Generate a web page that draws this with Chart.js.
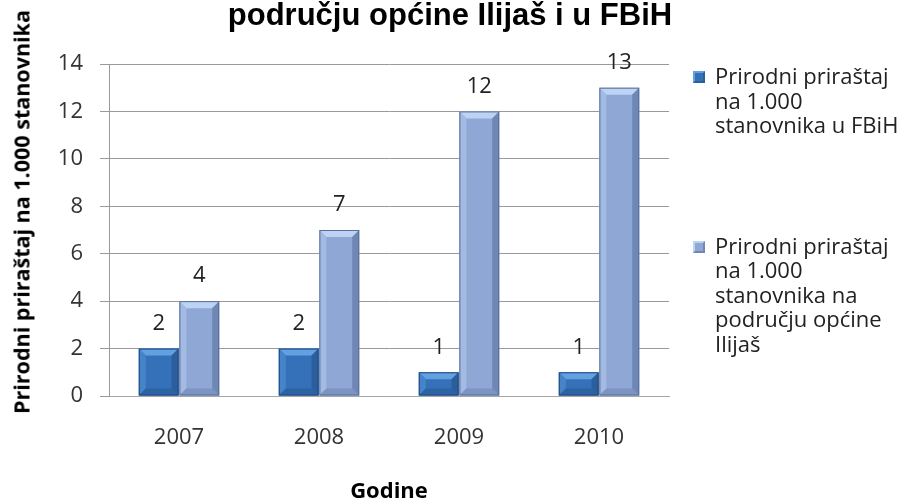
<!DOCTYPE html>
<html>
<head>
<meta charset="utf-8">
<script src="https://cdn.jsdelivr.net/npm/chart.js@4.4.1/dist/chart.umd.min.js"></script>
<style>
  html, body { margin: 0; padding: 0; background: #fff; }
  #wrap { position: relative; width: 909px; height: 500px; overflow: hidden; }
  #chartTitle {
    position: absolute; left: 0; top: -5px; width: 900px; text-align: center;
    font: bold 31px "Liberation Sans", Arial, sans-serif; color: #000; line-height: 40px;
  }
  #yTitle {
    position: absolute; left: 21px; top: 212px; transform: translate(-50%, -50%) rotate(-90deg);
    white-space: nowrap; font: bold 21.5px "Open Sans", sans-serif; color: #000;
  }
  #legend {
    position: absolute; left: 693px; top: 63px;
    font: 22px "Open Sans", sans-serif; color: #222; line-height: 24.5px;
  }
  .item { position: relative; padding-left: 22px; }
  .item + .item { margin-top: 96px; }
  .sw { position: absolute; left: 0; top: 8px; width: 12px; height: 12px; box-sizing: border-box; }
</style>
</head>
<body>
<div id="wrap">
  <canvas id="barChart" width="909" height="500"></canvas>
  <div id="chartTitle">području općine Ilijaš i u FBiH</div>
  <div id="yTitle">Prirodni priraštaj na 1.000 stanovnika</div>
  <div id="legend"></div>
</div>
<script>
const categories = ["2007", "2008", "2009", "2010"];
const fbihValues = [2, 2, 1, 1];
const ilijasValues = [4, 7, 12, 13];
const seriesLabels = [
  "Prirodni priraštaj<br>na 1.000<br>stanovnika u FBiH",
  "Prirodni priraštaj<br>na 1.000<br>stanovnika na<br>području općine<br>Ilijaš"
];
const yTicks = [0, 2, 4, 6, 8, 10, 12, 14];

const faces = [
  { main: "#3471b9", top: "#62a0e0", left: "#4683c8", right: "#2a5e9c", bottom: "#2d62a3", edge: "#1f4a80" },
  { main: "#8ea7d5", top: "#bdd3f3", left: "#a3bbe3", right: "#6f87b4", bottom: "#7c94c2", edge: "#5a6f98" }
];

// bevel look of the bars, drawn over each bar element
const bevelPlugin = {
  id: "bevel",
  afterDatasetsDraw(chart) {
    const ctx = chart.ctx;
    chart.data.datasets.forEach((ds, di) => {
      const f = faces[di];
      chart.getDatasetMeta(di).data.forEach((bar) => {
        const p = bar.getProps(["x", "y", "base", "width"], true);
        const l = p.x - p.width / 2, r = p.x + p.width / 2, t = p.y, b = p.base;
        const h = b - t;
        const s = Math.min(7, h / 2, p.width / 2);
        const poly = (pts, c) => {
          ctx.beginPath();
          ctx.moveTo(pts[0][0], pts[0][1]);
          for (let i = 1; i < pts.length; i++) ctx.lineTo(pts[i][0], pts[i][1]);
          ctx.closePath();
          ctx.fillStyle = c;
          ctx.fill();
        };
        ctx.save();
        poly([[l, t], [r, t], [r - s, t + s], [l + s, t + s]], f.top);
        poly([[l, t], [l + s, t + s], [l + s, b - s], [l, b]], f.left);
        poly([[r, t], [r, b], [r - s, b - s], [r - s, t + s]], f.right);
        poly([[l, b], [l + s, b - s], [r - s, b - s], [r, b]], f.bottom);
        ctx.strokeStyle = f.edge;
        ctx.lineWidth = 1;
        ctx.strokeRect(l + 0.5, t + 0.5, p.width - 1, h - 1);
        ctx.restore();
      });
    });
  }
};

const valueLabels = {
  id: "valueLabels",
  afterDatasetsDraw(chart) {
    const ctx = chart.ctx;
    ctx.save();
    ctx.font = '22px "Open Sans", sans-serif';
    ctx.fillStyle = "#222";
    ctx.textAlign = "center";
    ctx.textBaseline = "middle";
    chart.data.datasets.forEach((ds, di) => {
      chart.getDatasetMeta(di).data.forEach((bar, i) => {
        ctx.fillText(ds.data[i], bar.x, bar.y - 25);
      });
    });
    ctx.restore();
  }
};

const chart = new Chart(document.getElementById("barChart"), {
  type: "bar",
  data: {
    labels: categories,
    datasets: [
      { label: "Prirodni priraštaj na 1.000 stanovnika u FBiH", data: fbihValues, backgroundColor: faces[0].main },
      { label: "Prirodni priraštaj na 1.000 stanovnika na području općine Ilijaš", data: ilijasValues, backgroundColor: faces[1].main }
    ]
  },
  options: {
    responsive: false,
    animation: false,
    layout: { padding: { top: 64, right: 240, bottom: 0, left: 0 } },
    datasets: { bar: { categoryPercentage: 0.58, barPercentage: 0.98 } },
    scales: {
      x: {
        grid: { display: false, drawTicks: false },
        border: { display: true, color: "#a6a6a6", width: 1 },
        ticks: { color: "#333", font: { family: "Open Sans", size: 22 }, padding: 29 },
        title: { display: true, text: "Godine", color: "#000", font: { family: "Open Sans", size: 22, weight: "bold" }, padding: { top: 0, bottom: -5 } },
        afterFit(scale) { scale.height = 104; }
      },
      y: {
        min: 0,
        max: 14,
        afterBuildTicks(scale) { scale.ticks = yTicks.map(v => ({ value: v })); },
        grid: { color: "#999", tickLength: 9, drawTicks: true },
        border: { display: true, color: "#999" },
        ticks: { color: "#333", font: { family: "Open Sans", size: 22 }, padding: 17 },
        afterFit(scale) { scale.width = 109; }
      }
    },
    plugins: {
      legend: { display: false },
      tooltip: { enabled: false }
    }
  },
  plugins: [bevelPlugin, valueLabels]
});

const legendBox = document.getElementById("legend");
seriesLabels.forEach((txt, i) => {
  const item = document.createElement("div");
  item.className = "item";
  item.innerHTML = `<div class="sw" style="background:${faces[i].main};border:2px solid ${faces[i].top};border-bottom-color:${faces[i].right};border-right-color:${faces[i].right}"></div>${txt}`;
  legendBox.appendChild(item);
});
</script>
</body>
</html>
